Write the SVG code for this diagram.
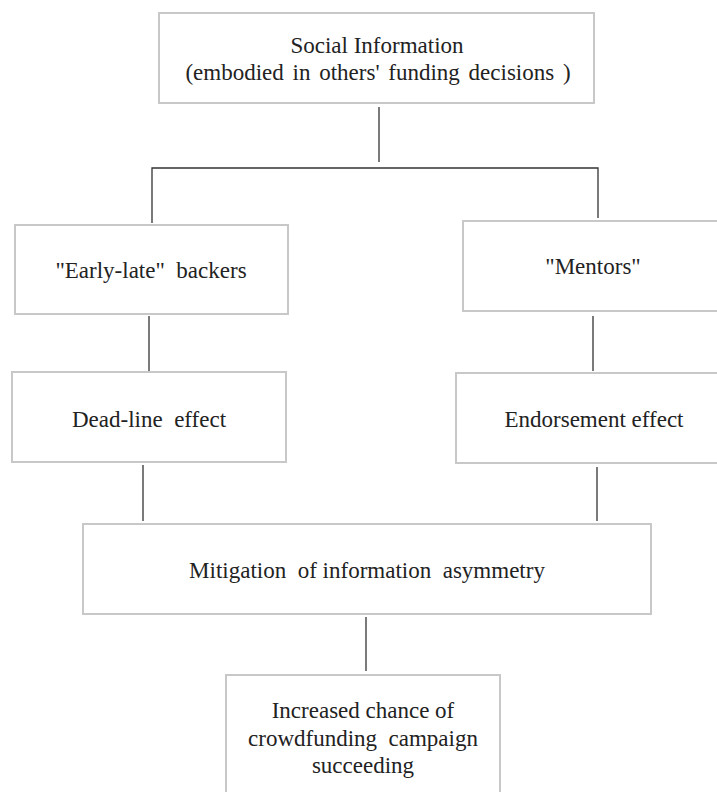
<svg xmlns="http://www.w3.org/2000/svg" width="717" height="792" viewBox="0 0 717 792" xml:space="preserve">
<style>
.box{fill:#fff;stroke:#c8c8c8;stroke-width:2}
.lbl{font-family:"Liberation Serif","Times New Roman",serif;font-size:23px;fill:#222;text-anchor:middle;white-space:pre}
.con{stroke:#333;stroke-width:1.3;fill:none}
</style>
<rect width="717" height="792" fill="#fff"/>
<g id="connectors">
<line class="con" x1="379" y1="107" x2="379" y2="162"/>
<polyline class="con" points="152,223 152,168 598,168 598,218"/>
<line class="con" x1="149" y1="316" x2="149" y2="371"/>
<line class="con" x1="593" y1="316" x2="593" y2="371"/>
<line class="con" x1="143" y1="465" x2="143" y2="521"/>
<line class="con" x1="597" y1="467" x2="597" y2="521"/>
<line class="con" x1="366" y1="617" x2="366" y2="671"/>
</g>
<g id="social-information">
<rect class="box" x="159" y="13" width="435" height="90"/>
<text class="lbl" x="377" y="53">Social Information</text>
<text class="lbl" x="378" y="80" word-spacing="3">(embodied in others' funding decisions )</text>
</g>
<g id="early-late">
<rect class="box" x="15" y="225" width="273" height="89"/>
<text class="lbl" x="151" y="278">"Early-late"  backers</text>
</g>
<g id="mentors">
<rect class="box" x="463" y="221" width="260" height="90"/>
<text class="lbl" x="593" y="274">"Mentors"</text>
</g>
<g id="dead-line">
<rect class="box" x="12" y="372" width="274" height="90"/>
<text class="lbl" x="149" y="427">Dead-line  effect</text>
</g>
<g id="endorsement">
<rect class="box" x="456" y="373" width="277" height="90"/>
<text class="lbl" x="594" y="427">Endorsement effect</text>
</g>
<g id="mitigation">
<rect class="box" x="83" y="524" width="568" height="90"/>
<text class="lbl" x="367" y="578">Mitigation  of information  asymmetry</text>
</g>
<g id="increased-chance">
<rect class="box" x="226" y="675" width="274" height="130"/>
<text class="lbl" x="363" y="718">Increased chance of</text>
<text class="lbl" x="363" y="746">crowdfunding  campaign</text>
<text class="lbl" x="363" y="773">succeeding</text>
</g>
</svg>
